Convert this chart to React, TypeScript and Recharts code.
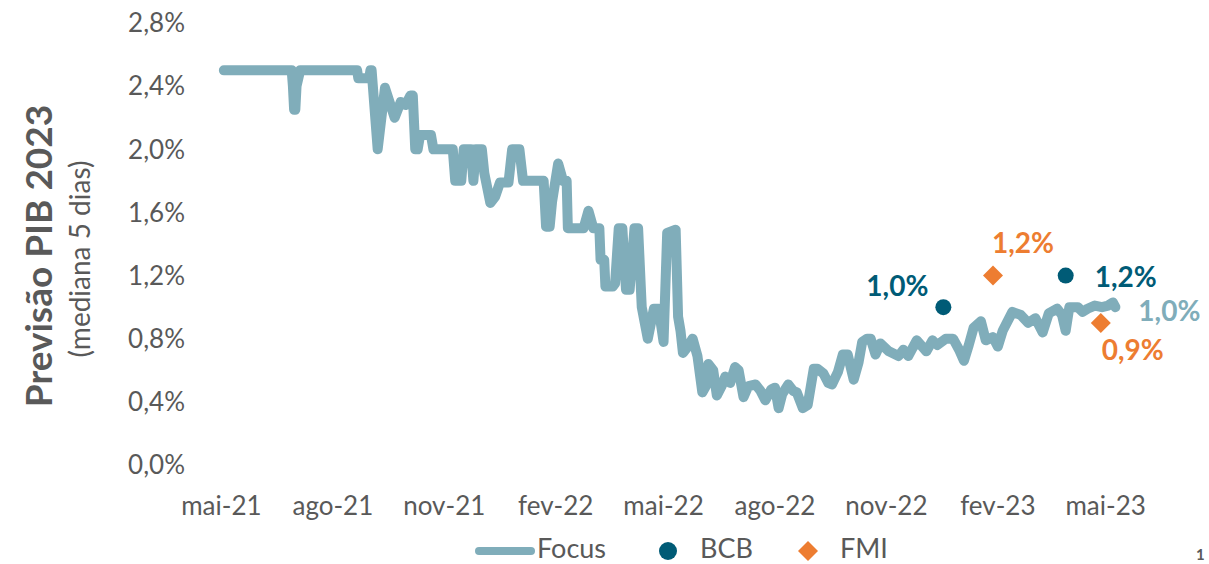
import React from "react";
import { ComposedChart, Line, Scatter, XAxis, YAxis } from "recharts";

// Focus median (5-day)
const focusDates = [
  "2021-05-03", "2021-06-28", "2021-06-29", "2021-06-30", "2021-07-01", "2021-07-02", "2021-07-05",
  "2021-08-21", "2021-08-22", "2021-08-31", "2021-09-01", "2021-09-02", "2021-09-07", "2021-09-13",
  "2021-09-21", "2021-09-26", "2021-09-30", "2021-10-04", "2021-10-06", "2021-10-08", "2021-10-10",
  "2021-10-12", "2021-10-21", "2021-10-23", "2021-11-08", "2021-11-10", "2021-11-15", "2021-11-17",
  "2021-11-23", "2021-11-25", "2021-11-27", "2021-12-02", "2021-12-04", "2021-12-09", "2021-12-13",
  "2021-12-17", "2021-12-24", "2021-12-27", "2022-01-02", "2022-01-05", "2022-01-22", "2022-01-24",
  "2022-01-27", "2022-01-29", "2022-02-03", "2022-02-07", "2022-02-10", "2022-02-11", "2022-02-24",
  "2022-02-28", "2022-03-04", "2022-03-09", "2022-03-10", "2022-03-13", "2022-03-14", "2022-03-20",
  "2022-03-22", "2022-03-25", "2022-03-28", "2022-03-31", "2022-04-03", "2022-04-07", "2022-04-10",
  "2022-04-13", "2022-04-18", "2022-04-23", "2022-04-27", "2022-05-01", "2022-05-04", "2022-05-11",
  "2022-05-13", "2022-05-15", "2022-05-17", "2022-05-21", "2022-05-25", "2022-05-29", "2022-06-02",
  "2022-06-05", "2022-06-07", "2022-06-11", "2022-06-14", "2022-06-18", "2022-06-21", "2022-06-25",
  "2022-06-29", "2022-07-02", "2022-07-06", "2022-07-10", "2022-07-16", "2022-07-20", "2022-07-24",
  "2022-07-29", "2022-08-01", "2022-08-04", "2022-08-07", "2022-08-12", "2022-08-16", "2022-08-19",
  "2022-08-24", "2022-08-28", "2022-09-02", "2022-09-05", "2022-09-10", "2022-09-14", "2022-09-17",
  "2022-09-22", "2022-09-26", "2022-09-30", "2022-10-05", "2022-10-09", "2022-10-12", "2022-10-16",
  "2022-10-19", "2022-10-23", "2022-10-27", "2022-11-03", "2022-11-11", "2022-11-15", "2022-11-19",
  "2022-11-26", "2022-12-04", "2022-12-09", "2022-12-13", "2022-12-20", "2022-12-26", "2022-12-31",
  "2023-01-04", "2023-01-08", "2023-01-12", "2023-01-18", "2023-01-22", "2023-01-28", "2023-02-01",
  "2023-02-05", "2023-02-13", "2023-02-20", "2023-02-26", "2023-03-04", "2023-03-10", "2023-03-15",
  "2023-03-22", "2023-03-26", "2023-03-29", "2023-04-01", "2023-04-08", "2023-04-12", "2023-04-16",
  "2023-04-22", "2023-04-28", "2023-05-03", "2023-05-07", "2023-05-09",
];
const focusValues = [
  2.5, 2.5, 2.4, 2.25, 2.25, 2.4, 2.5,
  2.5, 2.45, 2.45, 2.5, 2.5, 2.0, 2.39,
  2.2, 2.3, 2.28, 2.34, 2.34, 2.0, 2.0,
  2.09, 2.09, 2.0, 2.0, 1.8, 1.8, 2.0,
  2.0, 1.8, 2.0, 2.0, 1.85, 1.66, 1.7,
  1.79, 1.79, 2.0, 2.0, 1.8, 1.8, 1.51,
  1.51, 1.67, 1.91, 1.8, 1.8, 1.5, 1.5,
  1.61, 1.5, 1.5, 1.3, 1.3, 1.13, 1.13,
  1.15, 1.5, 1.5, 1.11, 1.11, 1.5, 1.5,
  1.0, 0.8, 0.99, 0.99, 0.78, 1.47, 1.49,
  0.94, 0.85, 0.71, 0.75, 0.8, 0.69, 0.46,
  0.5, 0.64, 0.6, 0.44, 0.5, 0.56, 0.52,
  0.62, 0.6, 0.43, 0.5, 0.51, 0.47, 0.41,
  0.48, 0.49, 0.36, 0.45, 0.51, 0.47, 0.46,
  0.36, 0.38, 0.61, 0.61, 0.58, 0.52, 0.51,
  0.59, 0.7, 0.7, 0.54, 0.65, 0.78, 0.8,
  0.8, 0.7, 0.77, 0.72, 0.69, 0.73, 0.69,
  0.79, 0.72, 0.79, 0.76, 0.8, 0.8, 0.73,
  0.66, 0.76, 0.87, 0.91, 0.79, 0.81, 0.75,
  0.85, 0.97, 0.95, 0.9, 0.93, 0.84, 0.96,
  0.99, 0.95, 0.85, 1.0, 1.0, 0.97, 0.99,
  1.01, 1.0, 1.01, 1.03, 1.0,
];

const bcbDates = ["2022-12-18", "2023-03-29"];
const bcbValues = [1.0, 1.2];
const fmiDates = ["2023-01-28", "2023-04-27"];
const fmiValues = [1.2, 0.9];

const tickDates = [
  "2021-05-01", "2021-08-01", "2021-11-01", "2022-02-01", "2022-05-01",
  "2022-08-01", "2022-11-01", "2023-02-01", "2023-05-01",
];
const tickLabels = ["mai-21", "ago-21", "nov-21", "fev-22", "mai-22", "ago-22", "nov-22", "fev-23", "mai-23"];
const yTicks = [0, 0.4, 0.8, 1.2, 1.6, 2.0, 2.4, 2.8];

const ts = (d: string) => Date.parse(d + "T00:00:00Z");
const pct = (v: number) => v.toFixed(1).replace(".", ",") + "%";

const focusData = focusDates.map((d, i) => ({ t: ts(d), v: focusValues[i] }));
const bcbData = bcbDates.map((d, i) => ({ t: ts(d), v: bcbValues[i] }));
const fmiData = fmiDates.map((d, i) => ({ t: ts(d), v: fmiValues[i] }));
const xTicks = tickDates.map(ts);

const FOCUS = "#80adba";
const BCB = "#005b76";
const FMI = "#ed7d31";
const GRAY = "#595959";

// where each annotation sits relative to its marker
const bcbLabelPos = [{ dx: -46, dy: -22 }, { dx: 60, dy: 0 }];
const fmiLabelPos = [{ dx: 30, dy: -34 }, { dx: 32, dy: 26 }];

const labelStyle = { fontSize: 28, fontWeight: 700 };

function BcbShape(props: any) {
  const { cx, cy, payload } = props;
  const i = bcbData.findIndex((d) => d.t === payload.t);
  const p = bcbLabelPos[i] || { dx: 0, dy: -25 };
  return (
    <g>
      <circle cx={cx} cy={cy} r={8} fill={BCB} />
      <text x={cx + p.dx} y={cy + p.dy} textAnchor="middle" dominantBaseline="central" fill={BCB} style={labelStyle}>
        {pct(payload.v)}
      </text>
    </g>
  );
}

function FmiShape(props: any) {
  const { cx, cy, payload } = props;
  const i = fmiData.findIndex((d) => d.t === payload.t);
  const p = fmiLabelPos[i] || { dx: 0, dy: -25 };
  const r = 10;
  return (
    <g>
      <polygon points={`${cx},${cy - r} ${cx + r},${cy} ${cx},${cy + r} ${cx - r},${cy}`} fill={FMI} />
      <text x={cx + p.dx} y={cy + p.dy} textAnchor="middle" dominantBaseline="central" fill={FMI} style={labelStyle}>
        {pct(payload.v)}
      </text>
    </g>
  );
}

function FocusEnd(props: any) {
  const { cx, cy, index, payload } = props;
  if (index !== focusData.length - 1) return <g key={`d${index}`} />;
  return (
    <text key="end" x={cx + 54} y={cy + 3} textAnchor="middle" dominantBaseline="central" fill={FOCUS} style={labelStyle}>
      {pct(payload.v)}
    </text>
  );
}

export default function App() {
  return (
    <div style={{ position: "absolute", left: 0, top: 0, width: 1209, height: 564, background: "#fff", fontFamily: "Lato, sans-serif" }}>
      <ComposedChart width={1209} height={564} margin={{ top: 23, right: 67, bottom: 39, left: 116 }}>
        <XAxis
          dataKey="t"
          type="number"
          domain={[ts("2021-04-10"), ts("2023-05-31")]}
          ticks={xTicks}
          tickFormatter={(v: number) => tickLabels[xTicks.indexOf(v)] ?? ""}
          axisLine={false}
          tickLine={false}
          tickSize={0}
          tickMargin={32}
          height={60}
          interval={0}
          tick={{ fontSize: 26, fill: GRAY }}
        />
        <YAxis
          type="number"
          domain={[0, 2.8]}
          ticks={yTicks}
          tickFormatter={pct}
          axisLine={false}
          tickLine={false}
          tickSize={0}
          tickMargin={11}
          width={80}
          interval={0}
          tick={{ fontSize: 26, fill: GRAY }}
        />
        <Line
          data={focusData}
          dataKey="v"
          type="linear"
          stroke={FOCUS}
          strokeWidth={10}
          strokeLinejoin="round"
          strokeLinecap="round"
          dot={FocusEnd}
          activeDot={false}
          isAnimationActive={false}
        />
        <Scatter data={bcbData} dataKey="v" shape={BcbShape} isAnimationActive={false} />
        <Scatter data={fmiData} dataKey="v" shape={FmiShape} isAnimationActive={false} />
      </ComposedChart>
      <svg width={1209} height={564} style={{ position: "absolute", left: 0, top: 0, pointerEvents: "none" }}>
        <text transform="translate(52,256) rotate(-90)" textAnchor="middle" fill={GRAY} style={{ fontSize: 37, fontWeight: 700 }}>
          Previsão PIB 2023
        </text>
        <text transform="translate(90,259) rotate(-90)" textAnchor="middle" fill={GRAY} style={{ fontSize: 28 }}>
          (mediana 5 dias)
        </text>
        <line x1={479} y1={551} x2={531} y2={551} stroke={FOCUS} strokeWidth={8} strokeLinecap="round" />
        <text x={537} y={558} fill={GRAY} style={{ fontSize: 27 }}>Focus</text>
        <circle cx={668} cy={551} r={9} fill={BCB} />
        <text x={700} y={558} fill={GRAY} style={{ fontSize: 27 }}>BCB</text>
        <polygon points="808,541 818,551 808,561 798,551" fill={FMI} />
        <text x={840} y={558} fill={GRAY} style={{ fontSize: 27 }}>FMI</text>
        <text x={1196} y={560} fill={GRAY} style={{ fontSize: 15, fontWeight: 700 }}>1</text>
      </svg>
    </div>
  );
}
